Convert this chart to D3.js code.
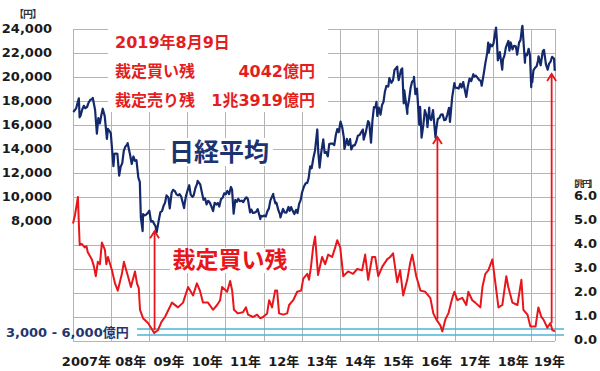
<!DOCTYPE html>
<html><head><meta charset="utf-8">
<script src="https://cdn.jsdelivr.net/npm/d3@7"></script>
<style>
html,body{margin:0;padding:0;background:#fff;}
svg{display:block;font-family:"DejaVu Sans","Noto Sans CJK JP",sans-serif;}
</style></head><body>
<svg id="c" width="600" height="371"></svg>
<script>
// ---------- DATA ----------
const yearLabels = ["2007年","08年","09年","10年","11年","12年","13年","14年","15年","16年","17年","18年","19年"];
const leftTicks = [8000,10000,12000,14000,16000,18000,20000,22000,24000];
const rightTicks = [0,1,2,3,4,5,6];
const infoDate = "2019年8月9日";
const infoBuyLabel = "裁定買い残", infoBuyValue = "4042億円";
const infoSellLabel = "裁定売り残", infoSellValue = "1兆3919億円";
const bandLabel = "3,000 - 6,000億円";
const bandLines = [0.25, 0.5];

const nikkei = [
["2007-01-04",17091],["2007-01-15",17200],["2007-01-31",17383],["2007-02-15",17900],["2007-02-26",18215],["2007-03-05",16642],["2007-03-15",16800],["2007-03-30",17288],["2007-04-15",17600],["2007-04-27",17400],["2007-05-15",17500],["2007-05-31",17876],["2007-06-15",18100],["2007-06-29",18138],["2007-07-09",18261],["2007-07-31",17248],["2007-08-17",15273],["2007-08-31",16569],["2007-09-14",16127],["2007-09-28",16786],["2007-10-12",17358],["2007-10-31",16737],["2007-11-21",14837],["2007-11-30",15680],["2007-12-14",15514],["2007-12-28",15308],
["2008-01-22",12573],["2008-01-31",13592],["2008-02-15",13622],["2008-02-29",13603],["2008-03-17",11787],["2008-03-31",12525],["2008-04-15",12800],["2008-04-30",13849],["2008-05-15",14200],["2008-05-30",14338],["2008-06-06",14489],["2008-06-30",13481],["2008-07-15",12754],["2008-07-31",13376],["2008-08-15",13019],["2008-08-29",13072],["2008-09-16",11609],["2008-09-30",11259],["2008-10-10",8276],["2008-10-27",7162],["2008-10-31",8576],["2008-11-14",8462],["2008-11-28",8512],["2008-12-15",8664],["2008-12-30",8859],
["2009-01-15",7950],["2009-01-30",7994],["2009-02-13",7779],["2009-02-27",7568],["2009-03-10",7054],["2009-03-31",8109],["2009-04-15",8742],["2009-04-30",8828],["2009-05-15",9265],["2009-05-29",9522],["2009-06-12",10135],["2009-06-30",9958],["2009-07-13",9050],["2009-07-31",10356],["2009-08-14",10597],["2009-08-31",10492],["2009-09-15",10217],["2009-09-30",10133],["2009-10-15",10238],["2009-10-30",10034],["2009-11-27",9081],["2009-11-30",9345],["2009-12-15",10083],["2009-12-30",10546],
["2010-01-15",10982],["2010-01-29",10198],["2010-02-15",10013],["2010-02-26",10126],["2010-03-15",10751],["2010-03-31",11089],["2010-04-05",11339],["2010-04-30",11057],["2010-05-14",10462],["2010-05-31",9768],["2010-06-15",9888],["2010-06-30",9382],["2010-07-15",9685],["2010-07-30",9537],["2010-08-13",9253],["2010-08-31",8824],["2010-09-15",9516],["2010-09-30",9369],["2010-10-15",9500],["2010-10-29",9202],["2010-11-15",9827],["2010-11-30",9937],["2010-12-15",10309],["2010-12-30",10228],
["2011-01-14",10499],["2011-01-31",10237],["2011-02-17",10836],["2011-02-28",10624],["2011-03-15",8605],["2011-03-31",9755],["2011-04-15",9591],["2011-04-28",9849],["2011-05-13",9648],["2011-05-31",9693],["2011-06-15",9574],["2011-06-30",9816],["2011-07-15",9974],["2011-07-29",9833],["2011-08-19",8719],["2011-08-31",8955],["2011-09-15",8668],["2011-09-30",8700],["2011-10-14",8747],["2011-10-31",8988],["2011-11-25",8160],["2011-11-30",8434],["2011-12-15",8377],["2011-12-30",8455],
["2012-01-16",8378],["2012-01-31",8802],["2012-02-15",9052],["2012-02-29",9723],["2012-03-27",10255],["2012-03-30",10083],["2012-04-16",9470],["2012-04-27",9520],["2012-05-15",8900],["2012-05-31",8542],["2012-06-04",8295],["2012-06-29",9006],["2012-07-13",8724],["2012-07-31",8695],["2012-08-20",9171],["2012-08-31",8839],["2012-09-14",9159],["2012-09-28",8870],["2012-10-15",8577],["2012-10-31",8928],["2012-11-14",8665],["2012-11-30",9446],["2012-12-14",9737],["2012-12-28",10395],
["2013-01-15",10879],["2013-01-31",11138],["2013-02-15",11173],["2013-02-28",11559],["2013-03-15",12560],["2013-03-29",12397],["2013-04-15",13275],["2013-04-30",13860],["2013-05-22",15627],["2013-05-31",13774],["2013-06-13",12445],["2013-06-28",13677],["2013-07-18",14808],["2013-07-31",13668],["2013-08-15",13752],["2013-08-30",13388],["2013-09-13",14404],["2013-09-30",14455],["2013-10-15",14441],["2013-10-31",14327],["2013-11-15",15165],["2013-11-29",15662],["2013-12-13",15403],["2013-12-30",16291],
["2014-01-15",15809],["2014-01-31",14914],["2014-02-05",14008],["2014-02-14",14313],["2014-02-28",14841],["2014-03-14",14327],["2014-03-31",14828],["2014-04-11",13960],["2014-04-30",14304],["2014-05-15",14298],["2014-05-30",14632],["2014-06-13",15097],["2014-06-30",15162],["2014-07-15",15395],["2014-07-31",15621],["2014-08-08",14778],["2014-08-29",15425],["2014-09-19",16321],["2014-09-30",16174],["2014-10-17",14532],["2014-10-31",16414],["2014-11-14",17490],["2014-11-28",17460],["2014-12-08",17935],["2014-12-16",16755],["2014-12-30",17451],
["2015-01-16",16864],["2015-01-30",17674],["2015-02-13",17913],["2015-02-27",18798],["2015-03-13",19254],["2015-03-31",19207],["2015-04-10",19908],["2015-04-30",19520],["2015-05-15",19733],["2015-05-29",20563],["2015-06-24",20868],["2015-06-30",20236],["2015-07-08",19737],["2015-07-31",20585],["2015-08-11",20720],["2015-08-25",17806],["2015-08-31",18890],["2015-09-29",16930],["2015-09-30",17388],["2015-10-15",18097],["2015-10-30",19083],["2015-11-13",19596],["2015-11-30",19747],["2015-12-01",20012],["2015-12-15",18565],["2015-12-30",19034],
["2016-01-21",16017],["2016-01-29",17518],["2016-02-12",14952],["2016-02-29",16027],["2016-03-14",17233],["2016-03-31",16759],["2016-04-08",15821],["2016-04-25",17440],["2016-04-28",16666],["2016-05-13",16412],["2016-05-31",17235],["2016-06-24",14952],["2016-06-30",15576],["2016-07-15",16497],["2016-07-29",16569],["2016-08-15",16869],["2016-08-31",16887],["2016-09-15",16405],["2016-09-30",16450],["2016-10-14",16856],["2016-10-31",17425],["2016-11-09",16251],["2016-11-30",18308],["2016-12-21",19494],["2016-12-30",19114],
["2017-01-16",19095],["2017-01-31",19041],["2017-02-15",19437],["2017-02-28",19119],["2017-03-15",19577],["2017-03-31",18909],["2017-04-14",18336],["2017-04-28",19197],["2017-05-15",19869],["2017-05-31",19651],["2017-06-20",20230],["2017-06-30",20033],["2017-07-14",20118],["2017-07-31",19925],["2017-08-15",19753],["2017-08-31",19646],["2017-09-08",19275],["2017-09-29",20356],["2017-10-13",21155],["2017-10-31",22012],["2017-11-09",22868],["2017-11-15",22028],["2017-11-30",22725],["2017-12-15",22553],["2017-12-29",22765],
["2018-01-23",24124],["2018-01-31",23098],["2018-02-09",21382],["2018-02-28",22068],["2018-03-23",20617],["2018-03-30",21454],["2018-04-13",21778],["2018-04-27",22468],["2018-05-21",23002],["2018-05-31",22202],["2018-06-12",22878],["2018-06-29",22305],["2018-07-13",22597],["2018-07-31",22554],["2018-08-13",21858],["2018-08-31",22865],["2018-09-14",23094],["2018-09-28",24120],["2018-10-02",24270],["2018-10-26",21184],["2018-10-31",21920],["2018-11-15",21803],["2018-11-30",22351],["2018-12-13",21816],["2018-12-25",19155],["2018-12-28",20015],
["2019-01-04",19561],["2019-01-15",20555],["2019-01-31",20773],["2019-02-15",20900],["2019-02-28",21385],["2019-03-05",21726],["2019-03-25",20977],["2019-03-29",21206],["2019-04-15",22169],["2019-04-26",22259],["2019-05-14",21067],["2019-05-31",20601],["2019-06-14",21116],["2019-06-28",21276],["2019-07-12",21686],["2019-07-31",21522],["2019-08-06",20585],["2019-08-09",20685]
];

// arbitrage buy balance, trillion yen
const arbBuy = [
["2007-01-01",4.9],["2007-01-20",5.25],["2007-02-17",6.0],["2007-02-27",4.75],["2007-03-06",4.0],["2007-03-25",4.05],["2007-04-23",3.9],["2007-05-10",3.95],["2007-05-22",3.7],["2007-06-30",3.4],["2007-07-20",3.1],["2007-08-07",2.7],["2007-08-26",3.3],["2007-09-15",3.2],["2007-10-04",4.1],["2007-11-02",3.8],["2007-11-15",3.2],["2007-12-01",3.5],["2008-01-08",2.95],["2008-02-06",2.4],["2008-03-04",2.1],["2008-04-12",2.8],["2008-05-01",3.3],["2008-05-20",3.0],["2008-06-09",2.7],["2008-07-07",2.25],["2008-08-15",2.9],["2008-09-03",2.4],["2008-09-20",2.2],["2008-10-02",1.3],["2008-10-31",0.95],["2008-12-17",0.75],["2009-01-15",0.55],["2009-02-14",0.33],["2009-03-22",0.45],["2009-04-25",0.8],["2009-05-28",1.0],["2009-07-01",1.3],["2009-08-03",1.6],["2009-09-30",1.4],["2009-11-17",1.6],["2010-01-04",2.25],["2010-02-21",1.9],["2010-03-29",2.4],["2010-04-27",2.1],["2010-05-26",1.6],["2010-07-13",1.6],["2010-08-30",1.3],["2010-10-08",1.5],["2010-11-06",1.7],["2010-11-25",2.25],["2011-01-12",2.05],["2011-02-10",2.5],["2011-03-01",2.1],["2011-03-18",1.3],["2011-04-25",1.15],["2011-06-12",1.2],["2011-07-11",1.4],["2011-07-30",1.1],["2011-09-17",1.0],["2011-10-25",1.1],["2011-11-23",0.95],["2011-12-21",1.0],["2012-01-29",1.15],["2012-02-17",1.7],["2012-03-16",1.4],["2012-04-14",2.1],["2012-05-03",2.1],["2012-05-22",1.15],["2012-06-30",1.1],["2012-08-07",1.15],["2012-08-26",1.5],["2012-10-04",1.7],["2012-11-11",2.05],["2012-12-19",2.1],["2013-01-08",2.6],["2013-02-15",2.8],["2013-03-04",2.55],["2013-03-23",3.1],["2013-04-12",3.9],["2013-05-01",4.35],["2013-05-29",2.75],["2013-07-07",3.5],["2013-08-05",3.2],["2013-09-03",3.6],["2013-10-11",3.5],["2013-11-09",3.9],["2013-11-28",4.2],["2013-12-27",3.9],["2014-01-25",2.7],["2014-03-12",2.9],["2014-04-29",2.8],["2014-06-07",3.0],["2014-07-24",2.95],["2014-08-22",3.6],["2014-09-20",2.55],["2014-10-28",3.5],["2014-11-26",3.5],["2014-12-25",2.7],["2015-02-02",3.1],["2015-03-20",3.4],["2015-04-18",3.5],["2015-05-16",3.65],["2015-06-24",2.45],["2015-07-22",2.95],["2015-08-20",1.9],["2015-09-28",2.55],["2015-10-26",3.25],["2015-11-15",3.6],["2015-12-23",2.7],["2016-02-01",2.1],["2016-03-18",2.05],["2016-05-05",1.8],["2016-06-03",1.15],["2016-07-01",0.9],["2016-08-09",0.65],["2016-08-28",0.4],["2016-09-26",0.9],["2016-10-25",1.15],["2016-12-02",1.8],["2016-12-21",2.05],["2017-01-19",1.7],["2017-03-06",1.8],["2017-04-14",1.5],["2017-05-03",2.05],["2017-06-10",1.7],["2017-07-09",1.6],["2017-08-26",1.4],["2017-09-15",2.25],["2017-10-13",2.8],["2017-11-11",2.95],["2017-12-19",3.4],["2018-01-17",2.4],["2018-02-15",1.4],["2018-03-24",1.5],["2018-05-01",2.7],["2018-05-20",2.25],["2018-06-28",1.6],["2018-08-15",1.5],["2018-09-22",2.55],["2018-10-11",1.3],["2018-11-19",1.1],["2018-12-17",0.6],["2019-02-04",0.6],["2019-03-03",1.4],["2019-04-01",1.0],["2019-04-20",0.9],["2019-05-28",0.55],["2019-06-26",0.75],["2019-07-15",0.45],["2019-08-09",0.40]
];

// arrows: date, start (arbitrage, 兆円), tip (Nikkei, 円)
const arrows = [
["2009-02-18",0.45,7150],
["2016-07-12",0.9,15000],
["2019-07-08",0.75,20250]
];

// ---------- CHART ----------
const parse = d3.timeParse("%Y-%m-%d");
const svg = d3.select("#c");
const L = 73, R = 555, T = 29, B = 341;
const x = d3.scaleTime().domain([parse("2007-01-01"), parse("2019-08-09")]).range([L, R]);
const yR = d3.scaleLinear().domain([0, 13]).range([B, T]);
const yL = d3.scaleLinear().domain([-2000, 24000]).range([B, T]);

const gridColor = "#b4b4b4";
svg.append("g").selectAll("line").data(d3.range(0, 14)).join("line")
  .attr("x1", L).attr("x2", R).attr("y1", d => yR(d)).attr("y2", d => yR(d))
  .attr("stroke", gridColor).attr("stroke-width", 1).attr("shape-rendering","crispEdges");
const yearStarts = yearLabels.map((_, i) => new Date(2007 + i, 0, 1));
svg.append("g").selectAll("line").data(yearStarts.map(d => x(d)).concat([R])).join("line")
  .attr("x1", d => d).attr("x2", d => d).attr("y1", T).attr("y2", B)
  .attr("stroke", gridColor).attr("stroke-width", 1).attr("shape-rendering","crispEdges");

svg.append("rect").attr("x", 108).attr("y", 26).attr("width", 220).attr("height", 86).attr("fill", "#fff");

const font = '"DejaVu Sans","Noto Sans CJK JP",sans-serif';

const axL = svg.append("g").attr("transform", `translate(${L},0)`)
  .call(d3.axisLeft(yL).tickValues(leftTicks).tickSize(0).tickPadding(21).tickFormat(d3.format(",")));
axL.select(".domain").remove();
axL.selectAll("text").attr("font-size", 13).attr("font-weight", "bold").attr("fill", "#1a1a1a")
  .attr("font-family", font).attr("dy", "0.25em");

const axR = svg.append("g").attr("transform", `translate(${R},0)`)
  .call(d3.axisRight(yR).tickValues(rightTicks).tickSize(0).tickPadding(19).tickFormat(d3.format(".1f")));
axR.select(".domain").remove();
axR.selectAll("text").attr("font-size", 13).attr("font-weight", "bold").attr("fill", "#1a1a1a")
  .attr("font-family", font).attr("dy", "0.2em");

const midYears = yearLabels.map((_, i) => new Date(2007 + i, 6, 1));
const axB = svg.append("g").attr("transform", `translate(0,${B})`)
  .call(d3.axisBottom(x).tickValues(midYears).tickSize(0).tickPadding(16).tickFormat((d, i) => yearLabels[i]));
axB.select(".domain").remove();
axB.selectAll("text").attr("font-size", 13).attr("font-weight", "bold").attr("fill", "#1a1a1a")
  .attr("font-family", font).attr("dx", (d, i) => i === 0 ? -6 : (i === yearLabels.length - 1 ? -2 : 0));

svg.append("text").attr("x", 14).attr("y", 18).attr("letter-spacing", -1)
  .attr("font-size", 10).attr("font-weight", "bold").attr("fill", "#333").attr("font-family", font).text("【円】");
svg.append("text").attr("x", 569).attr("y", 187).attr("letter-spacing", -2.5)
  .attr("font-size", 9).attr("font-weight", "bold").attr("fill", "#333").attr("font-family", font).text("【兆円】");

svg.append("g").selectAll("line").data(bandLines).join("line")
  .attr("x1", 137).attr("x2", 564).attr("y1", d => yR(d)).attr("y2", d => yR(d))
  .attr("stroke", "#4db3d6").attr("stroke-width", 1.6);
svg.append("text").attr("x", 6).attr("y", 337).attr("font-size", 13).attr("font-weight", "bold")
  .attr("fill", "#1f3670").attr("font-family", font).text(bandLabel);

svg.append("rect").attr("x", 165).attr("y", 138).attr("width", 108).attr("height", 28).attr("fill", "#fff");
svg.append("text").attr("x", 219).attr("y", 161).attr("text-anchor", "middle").attr("font-size", 25)
  .attr("font-weight", "bold").attr("fill", "#1c3372").attr("font-family", font).text("日経平均");
svg.append("rect").attr("x", 170).attr("y", 248).attr("width", 120).attr("height", 25).attr("fill", "#fff");
svg.append("text").attr("x", 230).attr("y", 268).attr("text-anchor", "middle").attr("font-size", 23)
  .attr("font-weight", "bold").attr("fill", "#e8161b").attr("font-family", font).text("裁定買い残");

const nkLine = d3.line().x(d => x(parse(d[0]))).y(d => yL(d[1]));
const arbLine = d3.line().x(d => x(parse(d[0]))).y(d => yR(d[1]));
svg.append("path").datum(arbBuy).attr("d", arbLine).attr("fill", "none")
  .attr("stroke", "#e8161b").attr("stroke-width", 2).attr("stroke-linejoin", "round");
svg.append("path").datum(nikkei).attr("d", nkLine).attr("fill", "none")
  .attr("stroke", "#14296b").attr("stroke-width", 2.2).attr("stroke-linejoin", "round");

const ag = svg.append("g").attr("stroke", "#e8161b").attr("stroke-width", 1.8).attr("fill", "none");
arrows.forEach(a => {
  const ax = x(parse(a[0])), y0 = yR(a[1]), y1 = yL(a[2]);
  ag.append("line").attr("x1", ax).attr("x2", ax).attr("y1", y0).attr("y2", y1);
  ag.append("path").attr("d", `M${ax - 4.5},${y1 + 7}L${ax},${y1}L${ax + 4.5},${y1 + 7}`);
});

const info = svg.append("g").attr("font-family", font).attr("font-weight", "bold").attr("font-size", 16).attr("fill", "#e41e1e");
info.append("text").attr("x", 115).attr("y", 48).text(infoDate);
info.append("text").attr("x", 115).attr("y", 77).text(infoBuyLabel);
info.append("text").attr("x", 315).attr("y", 77).attr("text-anchor", "end").text(infoBuyValue);
info.append("text").attr("x", 115).attr("y", 106).text(infoSellLabel);
info.append("text").attr("x", 315).attr("y", 106).attr("text-anchor", "end").text(infoSellValue);
</script>
</body></html>
